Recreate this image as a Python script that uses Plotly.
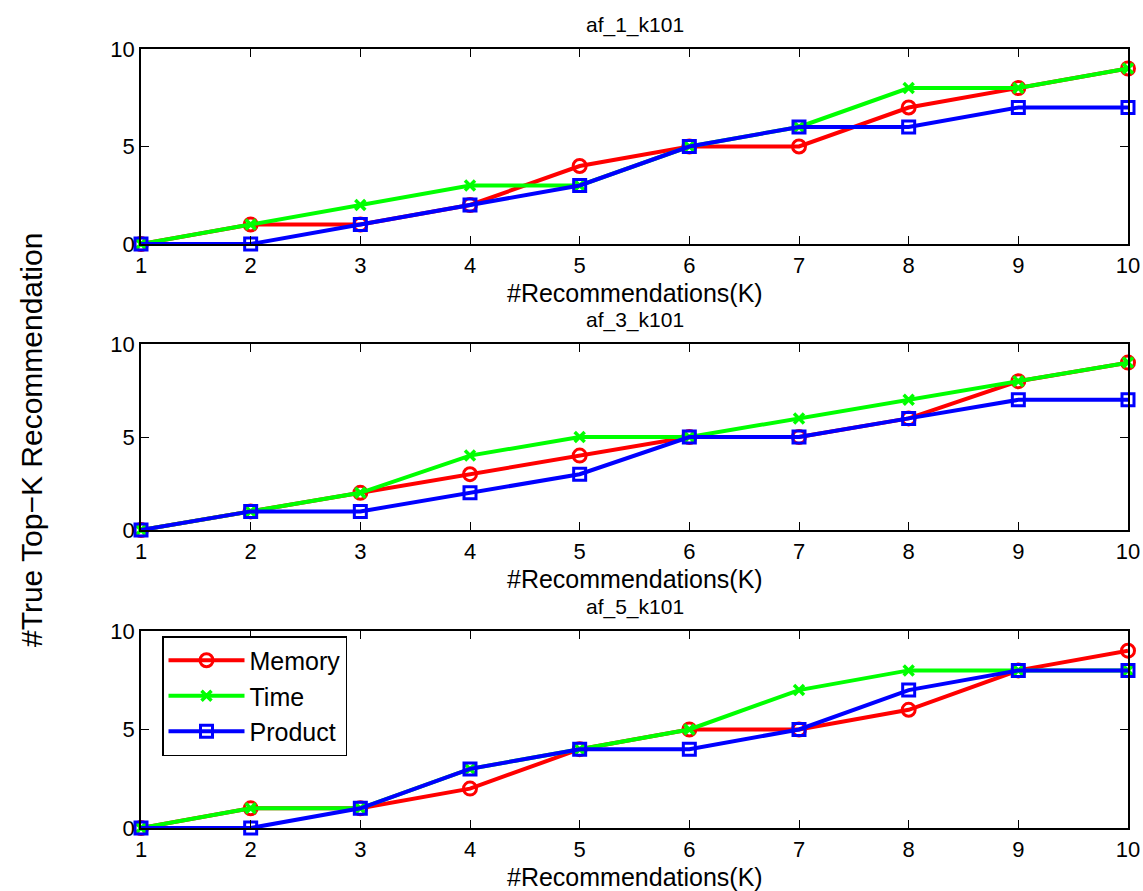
import plotly.graph_objects as go

k_values = [1, 2, 3, 4, 5, 6, 7, 8, 9, 10]
panel_titles = ["af_1_k101", "af_3_k101", "af_5_k101"]

memory = [
    [0, 1, 1, 2, 4, 5, 5, 7, 8, 9],
    [0, 1, 2, 3, 4, 5, 5, 6, 8, 9],
    [0, 1, 1, 2, 4, 5, 5, 6, 8, 9],
]
time_ = [
    [0, 1, 2, 3, 3, 5, 6, 8, 8, 9],
    [0, 1, 2, 4, 5, 5, 6, 7, 8, 9],
    [0, 1, 1, 3, 4, 5, 7, 8, 8, 8],
]
product = [
    [0, 0, 1, 2, 3, 5, 6, 6, 7, 7],
    [0, 1, 1, 2, 3, 5, 5, 6, 7, 7],
    [0, 0, 1, 3, 4, 4, 5, 7, 8, 8],
]
y_ticks = [0, 5, 10]

W, H = 1143, 891
FONT = "Liberation Sans, Arial, Helvetica, sans-serif"

# pixel boxes of the three axes: left/right shared, (top, bottom) per row
x_left, x_right = 141, 1128
rows = [(49, 244), (344, 530), (631, 828)]

series = [
    ("Memory", memory, "#ff0000", "circle-open", 13, 3),
    ("Time", time_, "#00ff00", "x-thin-open", 10, 3.5),
    ("Product", product, "#0000ff", "square-open", 12, 3),
]

fig = go.Figure()
for i in range(3):
    xa = "x" if i == 0 else f"x{i+1}"
    ya = "y" if i == 0 else f"y{i+1}"
    for name, data, color, sym, size, mlw in series:
        fig.add_trace(go.Scatter(
            x=k_values, y=data[i], mode="lines+markers", name=name,
            xaxis=xa, yaxis=ya, showlegend=(i == 2),
            legendgroup=name, cliponaxis=False,
            line=dict(color=color, width=4),
            marker=dict(symbol=sym, size=size, color=color,
                        line=dict(color=color, width=mlw)),
        ))

layout = dict(
    width=W, height=H,
    margin=dict(l=0, r=0, t=0, b=0, pad=0, autoexpand=False),
    paper_bgcolor="white", plot_bgcolor="white",
    font=dict(family=FONT, color="black"),
    showlegend=True,
    legend=dict(
        x=162 / W, y=1 - 636 / H, xanchor="left", yanchor="top",
        bgcolor="white", bordercolor="black", borderwidth=1.5,
        font=dict(size=25, family=FONT), itemwidth=76,
        tracegroupgap=0, traceorder="normal",
    ),
)

annotations = []
for i, (top, bot) in enumerate(rows):
    suffix = "" if i == 0 else str(i + 1)
    axis_common = dict(
        showline=True, linecolor="black", linewidth=1.5, mirror="ticks",
        ticks="inside", ticklen=8, tickwidth=1, tickcolor="black",
        showgrid=False, zeroline=False, automargin=False,
        tickfont=dict(size=22, family=FONT, color="black"),
    )
    layout["xaxis" + suffix] = dict(
        axis_common, domain=[x_left / W, x_right / W], range=[1, 10],
        tickvals=k_values, ticktext=[str(k) for k in k_values],
        anchor="y" + suffix, ticklabelstandoff=1,
    )
    layout["yaxis" + suffix] = dict(
        axis_common, domain=[1 - bot / H, 1 - top / H], range=[0, 10],
        tickvals=y_ticks, ticktext=[str(t) for t in y_ticks],
        anchor="x" + suffix, ticklabelstandoff=0,
    )
    annotations.append(dict(
        text=panel_titles[i], x=(x_left + x_right) / 2 / W, y=1 - (top - 24) / H,
        xref="paper", yref="paper", xanchor="center", yanchor="middle",
        showarrow=False, font=dict(size=21, family=FONT),
    ))
    annotations.append(dict(
        text="#Recommendations(K)", x=(x_left + x_right) / 2 / W,
        y=1 - (bot + 49) / H, xref="paper", yref="paper",
        xanchor="center", yanchor="middle", showarrow=False,
        font=dict(size=25, family=FONT),
    ))

annotations.append(dict(
    text="#True Top\u2212K Recommendation", x=31 / W, y=1 - 440 / H,
    xref="paper", yref="paper", xanchor="center", yanchor="middle",
    textangle=-90, showarrow=False, font=dict(size=30, family=FONT),
))
layout["annotations"] = annotations

fig.update_layout(**layout)
fig.write_html("out.html")
